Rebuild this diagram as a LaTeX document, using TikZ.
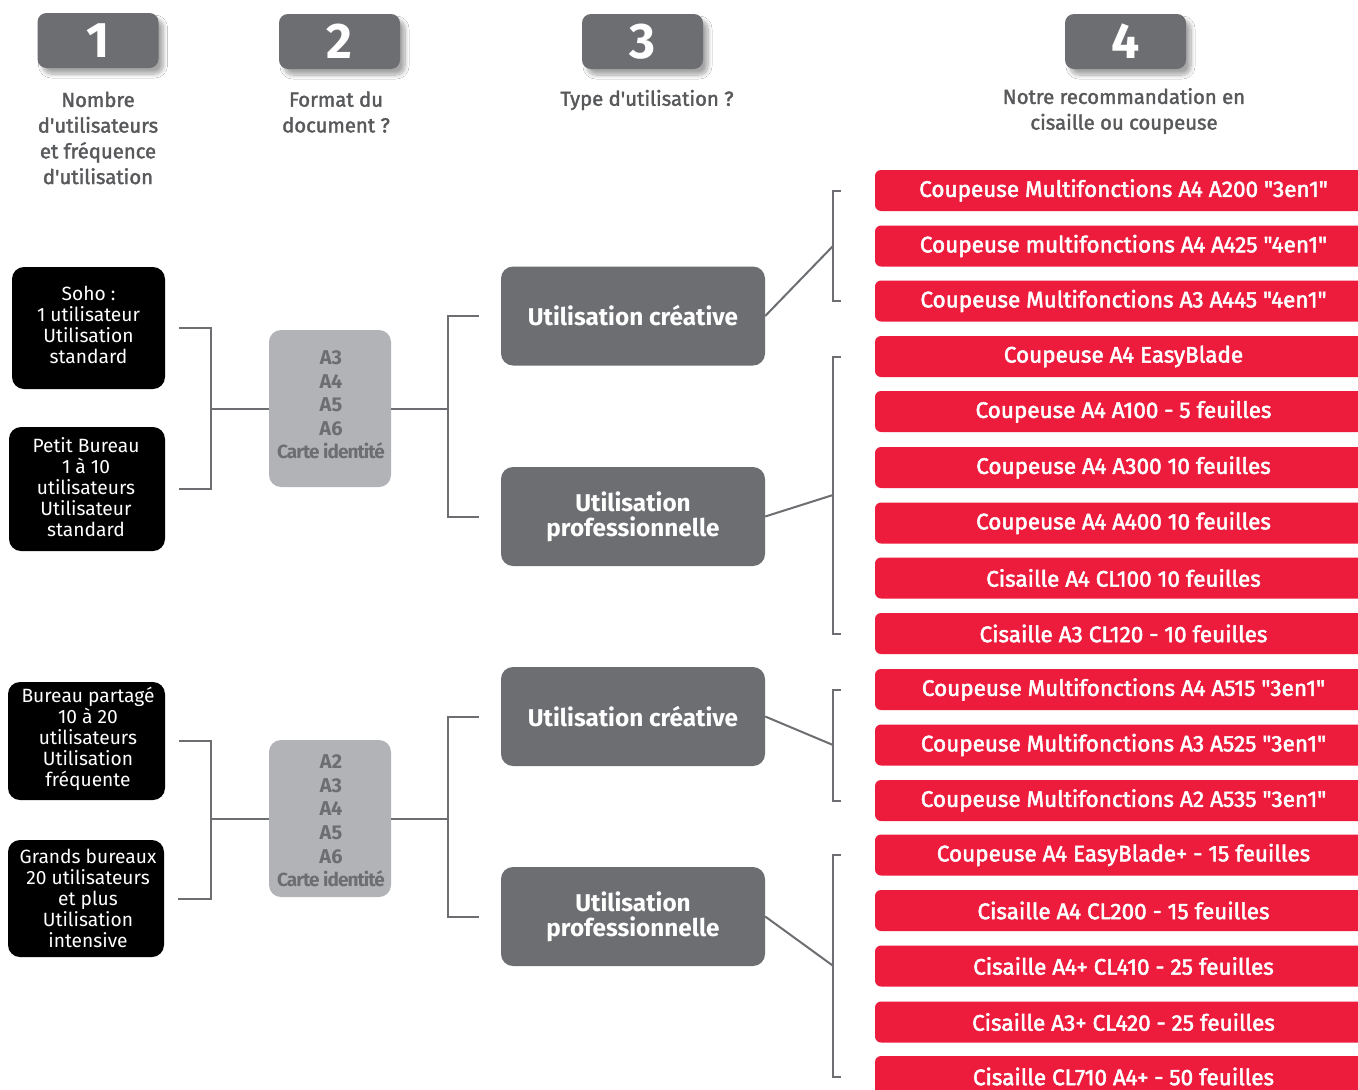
\documentclass[tikz,border=0pt]{standalone}
\usepackage{fontspec}
\setmainfont{Fira Sans}
\newfontfamily\medf{Fira Sans}[FakeBold=2.2]
\newfontfamily\lblf{Fira Sans}[FakeBold=1.8]
\newfontfamily\tightf{Fira Sans}[LetterSpace=-5]
\usetikzlibrary{calc,shadows.blur}
\definecolor{hdrgray}{HTML}{6D6E71}
\definecolor{lblgray}{HTML}{58595B}
\definecolor{fmtgray}{HTML}{B1B3B6}
\definecolor{xred}{HTML}{ED1B3C}
\definecolor{linegray}{HTML}{6D6E71}
\tikzset{
  hdr/.style={fill=hdrgray, rounded corners=9, minimum width=121, minimum height=55, text=white,
    font=\bfseries\fontsize{50}{50}\selectfont, inner sep=0,
    blur shadow={shadow xshift=5pt, shadow yshift=-6pt, shadow opacity=35, shadow blur radius=4pt, shadow blur steps=10}},
  lbl/.style={text=lblgray, align=center, font=\lblf\fontsize{20.3}{25.7}\selectfont, inner sep=0},
  blk/.style={fill=black, rounded corners=12, text=white, align=center,
    font=\fontsize{19.2}{21}\selectfont, inner sep=0},
  fmt/.style={fill=fmtgray, rounded corners=12, text=hdrgray, align=center,
    font=\bfseries\fontsize{20}{23.6}\selectfont, inner sep=0, minimum width=122, minimum height=157},
  usage/.style={fill=hdrgray, rounded corners=12, text=white, align=center,
    font=\bfseries\fontsize{24.3}{25}\selectfont, inner sep=0, minimum width=264, minimum height=99},
  red/.style={fill=xred, rounded corners=6, text=white, font=\medf\fontsize{22.5}{22.5}\selectfont,
    inner sep=0, minimum width=497, minimum height=41},
  conn/.style={draw=linegray, line width=2}
}
\newcommand{\carteid}{{\tightf\bfseries\fontsize{19}{23.6}\selectfont Carte identité}}
\begin{document}
\begin{tikzpicture}[x=1pt,y=-1pt]
\clip (0,0) rectangle (1358,1090);
\fill[white] (0,0) rectangle (1358,1090);

% header boxes
\node[hdr] (h1) at (98,40.5) {1};
\node[hdr] (h2) at (339.5,41.5) {2};
\node[hdr] (h3) at (642.5,41.5) {3};
\node[hdr] (h4) at (1125.5,41.5) {4};

\node[lbl] (l1) at (98,138) {Nombre\\d'utilisateurs\\et fréquence\\d'utilisation};
\node[lbl] (l2) at (336,112) {Format du\\document ?};
\node[lbl] (l3) at (647,100) {Type d'utilisation ?};
\node[lbl] (l4) at (1124,111) {Notre recommandation en\\cisaille ou coupeuse};

% user boxes
\node[blk, minimum width=153, minimum height=122] (soho) at (88.5,328) {};
\node[blk, minimum width=156, minimum height=124] (petit) at (87,489) {};
\node[blk, minimum width=157, minimum height=118] (bureau) at (86.5,741) {};
\node[blk, minimum width=156, minimum height=117] (grands) at (86,898.5) {};
\node[blk, fill=none] (tsoho) at (88.5,325) {Soho :\\1 utilisateur\\Utilisation\\standard};
\node[blk, fill=none] (tpetit) at (86,487) {Petit Bureau\\1 à 10\\utilisateurs\\Utilisateur\\standard};
\node[blk, fill=none] (tbureau) at (88,739) {Bureau partagé\\10 à 20\\utilisateurs\\Utilisation\\fréquente};
\node[blk, fill=none] (tgrands) at (88,898) {Grands bureaux\\20 utilisateurs\\et plus\\Utilisation\\intensive};

% format boxes
\node[fmt] (fmt1) at (330,408.5) {};
\node[fmt, fill=none, minimum width=0, minimum height=0] (tfmt1) at (331,405) {A3\\A4\\A5\\A6\\\carteid};
\node[fmt] (fmt2) at (330,818.5) {};
\node[fmt, fill=none, minimum width=0, minimum height=0] (tfmt2) at (331,821) {A2\\A3\\A4\\A5\\A6\\\carteid};

% usage boxes
\node[usage] (cre1) at (633,316) {Utilisation créative};
\node[usage] (pro1) at (633,516.5) {Utilisation\\professionnelle};
\node[usage] (cre2) at (633,716.5) {Utilisation créative};
\node[usage] (pro2) at (633,916.5) {Utilisation\\professionnelle};

% red product boxes
\node[red] (r1) at (1123.5,190.5) {Coupeuse Multifonctions A4 A200 "3en1"};
\node[red] (r2) at (1123.5,246) {Coupeuse multifonctions A4 A425 "4en1"};
\node[red] (r3) at (1123.5,301) {Coupeuse Multifonctions A3 A445 "4en1"};
\node[red] (r4) at (1123.5,356.5) {Coupeuse A4 EasyBlade};
\node[red] (r5) at (1123.5,411.5) {Coupeuse A4 A100 - 5 feuilles};
\node[red] (r6) at (1123.5,467.5) {Coupeuse A4 A300 10 feuilles};
\node[red] (r7) at (1123.5,523) {Coupeuse A4 A400 10 feuilles};
\node[red] (r8) at (1123.5,578) {Cisaille A4 CL100 10 feuilles};
\node[red] (r9) at (1123.5,633.5) {Cisaille A3 CL120 - 10 feuilles};
\node[red] (r10) at (1123.5,689.5) {Coupeuse Multifonctions A4 A515 "3en1"};
\node[red] (r11) at (1123.5,745) {Coupeuse Multifonctions A3 A525 "3en1"};
\node[red] (r12) at (1123.5,800.5) {Coupeuse Multifonctions A2 A535 "3en1"};
\node[red] (r13) at (1123.5,855) {Coupeuse A4 EasyBlade+ - 15 feuilles};
\node[red] (r14) at (1123.5,910.5) {Cisaille A4 CL200 - 15 feuilles};
\node[red] (r15) at (1123.5,966) {Cisaille A4+ CL410 - 25 feuilles};
\node[red] (r16) at (1123.5,1022) {Cisaille A3+ CL420 - 25 feuilles};
\node[red] (r17) at (1123.5,1076.5) {Cisaille CL710 A4+ - 50 feuilles};

% bracket x positions
\coordinate (bx1) at (211,0);
\coordinate (bx2) at (448,0);
\coordinate (bx3) at (833,0);

% left brackets
\draw[conn] ([xshift=14]soho.east) -| (bx1 |- petit.east) -- ([xshift=14]petit.east);
\draw[conn] (bx1 |- fmt1.west) -- (fmt1.west);
\draw[conn] ([xshift=14]bureau.east) -| (bx1 |- grands.east) -- ([xshift=14]grands.east);
\draw[conn] (bx1 |- fmt2.west) -- (fmt2.west);

% format to usage brackets
\draw[conn] (fmt1.east) -- (bx2 |- fmt1.east);
\draw[conn] ([xshift=-22]cre1.west) -| (bx2 |- pro1.west) -- ([xshift=-22]pro1.west);
\draw[conn] (fmt2.east) -- (bx2 |- fmt2.east);
\draw[conn] ([xshift=-22]cre2.west) -| (bx2 |- pro2.west) -- ([xshift=-22]pro2.west);

% usage to product brackets
\draw[conn] ([xshift=-34]r1.west) -| (bx3 |- r3.west) -- ([xshift=-34]r3.west);
\draw[conn] (cre1.east) -- (bx3 |- r2.west);
\draw[conn] ([xshift=-34]r4.west) -| (bx3 |- r9.west) -- ([xshift=-34]r9.west);
\draw[conn] (pro1.east) -- ($(bx3 |- r4.west)!0.5!(bx3 |- r9.west)$);
\draw[conn] ([xshift=-34]r10.west) -| (bx3 |- r12.west) -- ([xshift=-34]r12.west);
\draw[conn] (cre2.east) -- (bx3 |- r11.west);
\draw[conn] ([xshift=-34]r13.west) -| (bx3 |- r17.west) -- ([xshift=-34]r17.west);
\draw[conn] (pro2.east) -- ($(bx3 |- r13.west)!0.5!(bx3 |- r17.west)$);
\end{tikzpicture}
\end{document}
